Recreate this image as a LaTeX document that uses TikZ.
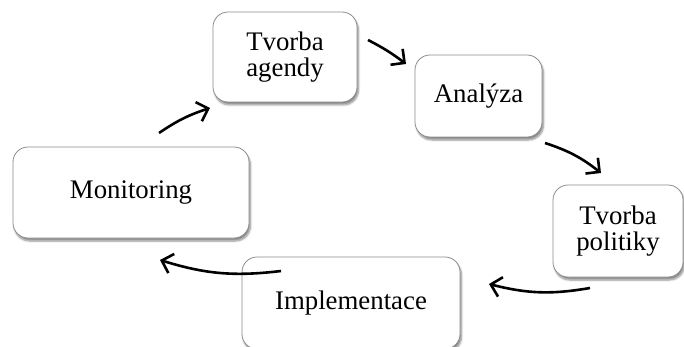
\documentclass[tikz,border=0pt]{standalone}
\usepackage{fontspec}
\setmainfont{Liberation Serif}
\usetikzlibrary{arrows.meta,shadows.blur}
\begin{document}
\begin{tikzpicture}[x=1pt,y=-1pt,
  stagebox/.style={draw=black!45, line width=0.8pt, fill=white, rounded corners=15pt,
    align=center, inner sep=0pt,
    font=\fontsize{26.8}{26}\selectfont,
    blur shadow={shadow xshift=1.5pt, shadow yshift=-3pt, shadow blur steps=6, shadow opacity=45}},
  flow/.style={line width=2.6pt, -{Straight Barb[length=10pt,width=20pt,line width=2.6pt]}}]
\clip (0,0) rectangle (684,347);
\node[stagebox, minimum width=144pt, minimum height=90pt] (agendy) at (285,57) {Tvorba\\agendy};
\node[stagebox, minimum width=127pt, minimum height=82pt] (analyza) at (478.5,96) {Analýza};
\node[stagebox, minimum width=130pt, minimum height=92pt] (politiky) at (618,231) {Tvorba\\politiky};
\node[stagebox, minimum width=218pt, minimum height=92pt] (impl) at (351,303) {Implementace};
\node[stagebox, minimum width=236pt, minimum height=91pt] (monit) at (131,192.5) {Monitoring};
\coordinate (a1) at (159,133);
\coordinate (a2) at (210,108);
\coordinate (b1) at (368,40);
\coordinate (b2) at (406,64);
\coordinate (c1) at (545,143);
\coordinate (c2) at (601,173);
\coordinate (d1) at (590,288);
\coordinate (d2) at (489,284);
\coordinate (e1) at (281,271);
\coordinate (e2) at (160,260);
\draw[flow] (a1) to[bend left=8] (a2);
\draw[flow] (b1) to[bend left=5] (b2);
\draw[flow] (c1) to[bend left=10] (c2);
\draw[flow] (d1) to[bend left=12] (d2);
\draw[flow] (e1) to[bend left=12] (e2);
\end{tikzpicture}
\end{document}
